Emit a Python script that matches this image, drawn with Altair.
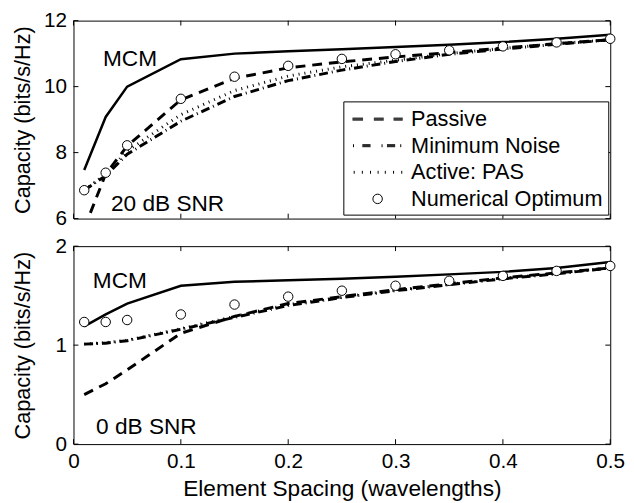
import altair as alt
import pandas as pd

# ---------------- data ----------------
spacing = [0.01, 0.03, 0.05, 0.1, 0.15, 0.2, 0.25, 0.3, 0.35, 0.4, 0.45, 0.5]

hi_mcm = [7.47, 9.08, 10.0, 10.83, 11.0, 11.07, 11.13, 11.2, 11.27, 11.35, 11.45, 11.57]
hi_passive = [5.7, 7.35, 8.2, 9.6, 10.25, 10.57, 10.75, 10.9, 11.03, 11.17, 11.3, 11.42]
hi_min_noise = [6.86, 7.3, 7.95, 8.95, 9.7, 10.18, 10.5, 10.76, 10.98, 11.14, 11.28, 11.42]
hi_pas = [6.86, 7.35, 8.05, 9.15, 9.88, 10.32, 10.6, 10.8, 11.0, 11.16, 11.3, 11.42]
hi_optimum = [6.86, 7.39, 8.22, 9.63, 10.30, 10.63, 10.84, 10.98, 11.10, 11.22, 11.34, 11.45]

lo_mcm = [1.19, 1.31, 1.42, 1.60, 1.64, 1.655, 1.67, 1.69, 1.715, 1.74, 1.78, 1.84]
lo_passive = [0.50, 0.61, 0.75, 1.12, 1.29, 1.42, 1.49, 1.56, 1.62, 1.68, 1.73, 1.78]
lo_min_noise = [1.01, 1.02, 1.045, 1.16, 1.28, 1.40, 1.48, 1.55, 1.61, 1.67, 1.72, 1.78]
lo_pas = [1.01, 1.025, 1.05, 1.165, 1.29, 1.41, 1.485, 1.555, 1.615, 1.675, 1.725, 1.78]
lo_optimum = [1.234, 1.234, 1.254, 1.31, 1.41, 1.49, 1.55, 1.60, 1.65, 1.70, 1.75, 1.80]

series_names = ["Passive", "Minimum Noise", "Active: PAS", "Numerical Optimum"]

x_ticks = [0, 0.1, 0.2, 0.3, 0.4, 0.5]
hi_y_ticks = [6, 8, 10, 12]
lo_y_ticks = [0, 1, 2]

hi_notes = ["MCM", "20 dB SNR"]
hi_note_x = [0.0275, 0.0349]
hi_note_y = [10.636, 6.23]
lo_notes = ["MCM", "0 dB SNR"]
lo_note_x = [0.018, 0.021]
lo_note_y = [1.575, 0.10]

# ---------------- styling ----------------
FONT = "Liberation Sans"
W, H = 545, 201
TICK = 5
SYM_SIZE = 625          # sqrt -> 25 px legend symbol box
UNIT = 12.5             # px per path unit for that size


def u(px):
    return round(px / UNIT, 3)


def bars(segments, rows=(-1.0, 0.0, 1.0)):
    return " ".join(f"M{u(a)},{u(y)}H{u(b)}" for a, b in segments for y in rows)


def vticks(xs, h=1.5):
    return " ".join(f"M{u(x)},{u(-h)}V{u(h)}" for x in xs)


R = 4.8
CIRCLE = f"M{u(R)},0A{u(R)},{u(R)} 0 1 1 {u(-R)},0A{u(R)},{u(R)} 0 1 1 {u(R)},0Z"
PASSIVE_SYM = bars([(-25.5, -14.8), (-3.8, 6.2), (16.2, 25.5)])
MN_SYM = vticks([-24.5, 4.5, 23.5]) + " " + bars([(-15.5, -7.2), (9.5, 17.8)])
PAS_SYM = vticks([-23.8, -15.5, -7.2, 0.5, 7.8, 16.2, 24.5])

xs = alt.Scale(domain=[0, 0.5], nice=False, zero=False)

x_bottom_axis = alt.Axis(
    orient="bottom", values=x_ticks, domain=False, ticks=False, tickSize=0,
    grid=False, labelFlush=False, labelPadding=6.5, labelFontSize=21,
    labelFont=FONT, labelColor="black", format="~g",
    title="Element Spacing (wavelengths)", titleFontSize=23, titleFont=FONT,
    titleFontWeight="normal", titleColor="black", titlePadding=7)


def y_axis(values):
    return alt.Axis(
        orient="left", values=values, domain=False, ticks=False, tickSize=0,
        grid=False, labelFlush=False, labelPadding=7, labelFontSize=21,
        labelFont=FONT, labelColor="black", format="~g",
        title="Capacity (bits/s/Hz)", titleFontSize=22, titleFont=FONT,
        titleFontWeight="normal", titleColor="black", titleX=-39.5,
        titleBaseline="bottom")


def panel(mcm, passive, mn, pas, opt, y_dom, y_ticks, notes, nx, ny,
          bottom_labels, with_legend):
    ys = alt.Scale(domain=y_dom, nice=False, zero=False)

    def df(vals, name):
        return pd.DataFrame({"x": spacing, "y": vals, "series": name})

    def line(vals, name, **style):
        return alt.Chart(df(vals, name)).mark_line(color="black", clip=True, **style).encode(
            x=alt.X("x:Q", scale=xs, axis=None),
            y=alt.Y("y:Q", scale=ys, axis=None),
        )

    mcm_layer = alt.Chart(df(mcm, "MCM")).mark_line(
        color="black", strokeWidth=2.5, clip=True).encode(
        x=alt.X("x:Q", scale=xs, axis=x_bottom_axis if bottom_labels else None),
        y=alt.Y("y:Q", scale=ys, axis=y_axis(y_ticks)),
    )
    pas_layer = line(pas, "Active: PAS", strokeWidth=3, strokeDash=[1, 5])
    mn_layer = line(mn, "Minimum Noise", strokeWidth=3, strokeDash=[9, 4, 1, 4])
    passive_layer = line(passive, "Passive", strokeWidth=3, strokeDash=[10, 7])

    # inward frame ticks (MATLAB style), placed through the scales
    xt = pd.DataFrame({"t": x_ticks})
    yt = pd.DataFrame({"t": y_ticks})
    rule = dict(color="black", strokeWidth=1)
    tick_layers = [
        alt.Chart(xt).mark_rule(**rule).encode(
            x=alt.X("t:Q", scale=xs, axis=None), y=alt.value(H), y2=alt.value(H - TICK)),
        alt.Chart(xt).mark_rule(**rule).encode(
            x=alt.X("t:Q", scale=xs, axis=None), y=alt.value(0), y2=alt.value(TICK)),
        alt.Chart(yt).mark_rule(**rule).encode(
            y=alt.Y("t:Q", scale=ys, axis=None), x=alt.value(0), x2=alt.value(TICK)),
        alt.Chart(yt).mark_rule(**rule).encode(
            y=alt.Y("t:Q", scale=ys, axis=None), x=alt.value(W), x2=alt.value(W - TICK)),
    ]

    if with_legend:
        shape = alt.Shape(
            "series:N",
            scale=alt.Scale(domain=series_names,
                            range=[PASSIVE_SYM, MN_SYM, PAS_SYM, CIRCLE]),
            legend=alt.Legend(
                title=None, orient="none", legendX=274, legendY=82,
                direction="vertical", strokeColor="black", fillColor="white",
                padding=5, rowPadding=3, symbolSize=SYM_SIZE,
                symbolStrokeWidth=1, symbolOffset=16.8, labelOffset=21,
                labelFont=FONT, labelFontSize=22, labelColor="black",
                labelLimit=400, cornerRadius=0, symbolOpacity=1),
        )
    else:
        shape = alt.value(CIRCLE)

    pts = alt.Chart(df(opt, "Numerical Optimum")).mark_point(
        filled=True, fill="white", stroke="black", strokeWidth=1,
        opacity=1, size=SYM_SIZE).encode(
        x=alt.X("x:Q", scale=xs, axis=None),
        y=alt.Y("y:Q", scale=ys, axis=None),
        shape=shape,
    )

    note_df = pd.DataFrame({"label": notes, "x": nx, "y": ny})
    note_layer = alt.Chart(note_df).mark_text(
        align="left", baseline="alphabetic", font=FONT, fontSize=23,
        color="black").encode(
        x=alt.X("x:Q", scale=xs, axis=None),
        y=alt.Y("y:Q", scale=ys, axis=None),
        text="label:N",
    )

    return alt.layer(pas_layer, mn_layer, passive_layer, mcm_layer, *tick_layers,
                     pts, note_layer).resolve_axis(
        x="independent", y="independent").properties(width=W, height=H)


top = panel(hi_mcm, hi_passive, hi_min_noise, hi_pas, hi_optimum, [6, 12],
            hi_y_ticks, hi_notes, hi_note_x, hi_note_y, False, True)
bottom = panel(lo_mcm, lo_passive, lo_min_noise, lo_pas, lo_optimum, [0, 2],
               lo_y_ticks, lo_notes, lo_note_x, lo_note_y, True, False)

chart = alt.vconcat(top, bottom, spacing=28, bounds="flush").properties(
    padding={"left": 2.5, "top": -3, "right": 0, "bottom": 0}
).configure_view(stroke="black", strokeWidth=1)

chart.save("out.html", embed_options={"renderer": "svg", "actions": False})
